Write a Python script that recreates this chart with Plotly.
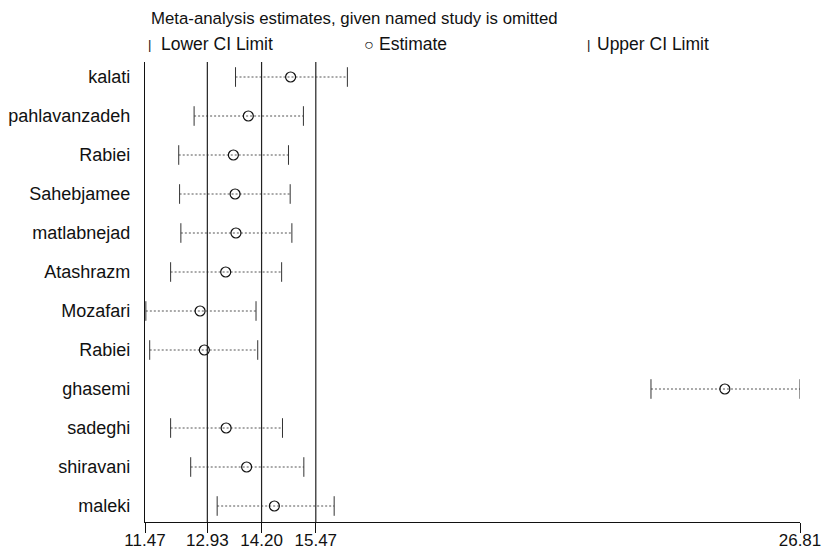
import plotly.graph_objects as go

studies = ["kalati", "pahlavanzadeh", "Rabiei", "Sahebjamee", "matlabnejad", "Atashrazm",
           "Mozafari", "Rabiei", "ghasemi", "sadeghi", "shiravani", "maleki"]
lower = [13.59, 12.62, 12.26, 12.28, 12.31, 12.07, 11.49, 11.58, 23.32, 12.07, 12.54, 13.16]
estimate = [14.88, 13.89, 13.54, 13.58, 13.60, 13.36, 12.76, 12.86, 25.05, 13.37, 13.85, 14.50]
upper = [16.21, 15.18, 14.83, 14.87, 14.91, 14.67, 14.07, 14.11, 26.81, 14.69, 15.19, 15.90]
overall = [12.93, 14.20, 15.47]  # pooled lower CI, estimate, upper CI
x_ticks = [11.47, 12.93, 14.20, 15.47, 26.81]
x_ticktext = ["11.47", "12.93", "14.20", "15.47", "26.81"]

FONT = "Liberation Sans, Arial, sans-serif"
FS = 17.5
rows = list(range(1, len(studies) + 1))

fig = go.Figure()

# dotted CI lines
lx, ly = [], []
for lo, hi, r in zip(lower, upper, rows):
    lx += [lo, hi, None]
    ly += [r, r, None]
fig.add_trace(go.Scatter(x=lx, y=ly, mode="lines",
                         line=dict(color="#555555", width=1, dash="2px,2px"),
                         showlegend=False, hoverinfo="skip"))
# caps
fig.add_trace(go.Scatter(x=lower, y=rows, mode="markers",
                         marker=dict(symbol="line-ns", size=14, line=dict(color="#333333", width=1)),
                         showlegend=False))
fig.add_trace(go.Scatter(x=upper, y=rows, mode="markers",
                         marker=dict(symbol="line-ns", size=14, line=dict(color="#333333", width=1)),
                         showlegend=False))
# estimates
fig.add_trace(go.Scatter(x=estimate, y=rows, mode="markers",
                         marker=dict(symbol="circle-open", size=10, color="#111111", line=dict(width=1.2)),
                         showlegend=False))

for v in overall:
    fig.add_shape(type="line", x0=v, x1=v, y0=0, y1=1, xref="x", yref="paper",
                  line=dict(color="#222222", width=1.2))

W, H = 824, 548
L, R, T, B = 145, 24, 62, 26
pw, ph = W - L - R, H - T - B


def px(x):
    return (x - L) / pw


def py(y):
    return 1 - (y - T) / ph


ann = [
    dict(x=px(149), y=py(18), text="Meta-analysis estimates, given named study is omitted", size=16.8),
    dict(x=px(146), y=py(44), text="|", size=13),
    dict(x=px(159), y=py(44), text="Lower CI Limit", size=FS),
    dict(x=px(362), y=py(44), text="○", size=16),
    dict(x=px(377), y=py(44), text="Estimate", size=FS),
    dict(x=px(585), y=py(44), text="|", size=13),
    dict(x=px(595), y=py(44), text="Upper CI Limit", size=FS),
]
for a in ann:
    fig.add_annotation(x=a["x"], y=a["y"], xref="paper", yref="paper", text=a["text"],
                       showarrow=False, xanchor="left", yanchor="middle",
                       font=dict(family=FONT, size=a["size"], color="#111111"))

fig.update_layout(
    width=W, height=H, autosize=False, margin=dict(l=L, r=R, t=T, b=B),
    paper_bgcolor="white", plot_bgcolor="white",
    font=dict(family=FONT, size=FS, color="#111111"),
    xaxis=dict(range=[11.47, 26.81], tickvals=x_ticks, ticktext=x_ticktext,
               showgrid=False, zeroline=False, showline=True, linecolor="#111111", linewidth=1.2,
               ticks="outside", ticklen=10, tickcolor="#111111", tickfont=dict(size=17),
               ticklabelstandoff=-8, automargin=False),
    yaxis=dict(range=[12.41, 0.615], tickvals=rows, ticktext=studies,
               showgrid=False, zeroline=False, showline=True, linecolor="#111111", linewidth=1.2,
               ticks="", ticklabelstandoff=10, tickfont=dict(size=18), automargin=False),
)

fig.write_html("out.html",
               config=dict(responsive=False, displayModeBar=False),
               post_script="document.body.style.margin='0';document.body.style.overflow='hidden';")
